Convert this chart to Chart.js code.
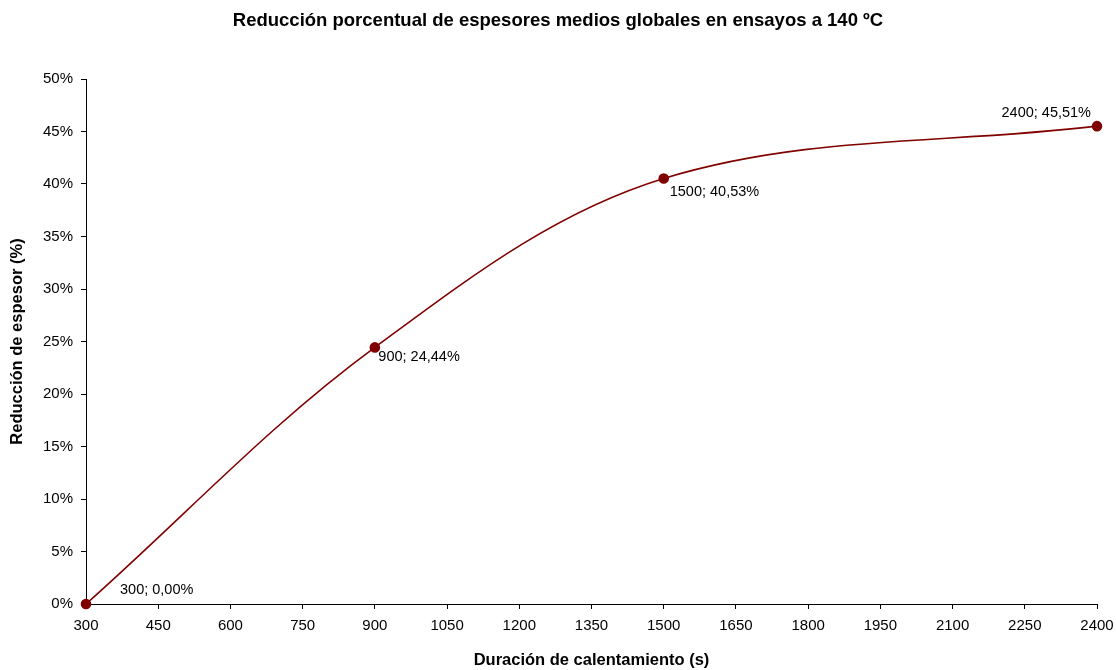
<!DOCTYPE html>
<html>
<head>
<meta charset="utf-8">
<script src="https://cdn.jsdelivr.net/npm/chart.js@4/dist/chart.umd.min.js"></script>
<style>
  html, body { margin: 0; padding: 0; background: #fff; }
  #wrap { width: 1116px; height: 670px; }
</style>
</head>
<body>
<div id="wrap"><canvas id="grafico"></canvas></div>
<script>
// datos
const duraciones = [300, 900, 1500, 2400];
const reducciones = [0.00, 24.44, 40.53, 45.51];
const etiquetas = ['300; 0,00%', '900; 24,44%', '1500; 40,53%', '2400; 45,51%'];
const ticksX = [300, 450, 600, 750, 900, 1050, 1200, 1350, 1500, 1650, 1800, 1950, 2100, 2250, 2400];
const ticksY = [0, 5, 10, 15, 20, 25, 30, 35, 40, 45, 50];

const rojo = '#800000';
const fuente = "Arial, 'Liberation Sans', sans-serif";

// posición de cada etiqueta respecto a su punto
const desplazamientos = [
    { dx: 34, dy: -14, align: 'left' },
    { dx: 3.5, dy: 10, align: 'left' },
    { dx: 6, dy: 13.5, align: 'left' },
    { dx: -6, dy: -13, align: 'right' }
];

// plugin sencillo para las etiquetas de datos
const etiquetasPlugin = {
    id: 'etiquetasDatos',
    afterDatasetsDraw(chart) {
        const ctx = chart.ctx;
        const meta = chart.getDatasetMeta(0);
        ctx.save();
        ctx.font = '14.5px ' + fuente;
        ctx.fillStyle = '#000';
        ctx.textBaseline = 'middle';
        meta.data.forEach((pt, i) => {
            const d = desplazamientos[i];
            ctx.textAlign = d.align;
            ctx.fillText(etiquetas[i], pt.x + d.dx, pt.y + d.dy);
        });
        ctx.restore();
    }
};

const ctx = document.getElementById('grafico').getContext('2d');
new Chart(ctx, {
    type: 'line',
    data: {
        datasets: [{
            data: duraciones.map((x, i) => ({ x: x, y: reducciones[i] })),
            borderColor: rojo,
            backgroundColor: rojo,
            borderWidth: 1.6,
            pointRadius: 4.5,
            pointBackgroundColor: rojo,
            pointBorderColor: rojo,
            tension: 0.35,
            clip: false
        }]
    },
    options: {
        responsive: true,
        maintainAspectRatio: false,
        animation: false,
        layout: { padding: 0 },
        plugins: {
            legend: { display: false },
            tooltip: { enabled: false },
            title: {
                display: true,
                text: 'Reducción porcentual de espesores medios globales en ensayos a 140 ºC',
                color: '#000',
                font: { family: fuente, size: 18.5, weight: 'bold' },
                padding: { top: 10, bottom: 46.8 }
            }
        },
        scales: {
            x: {
                type: 'linear',
                min: 300,
                max: 2400,
                afterBuildTicks: s => { s.ticks = ticksX.map(v => ({ value: v })); },
                // margen derecho fijo de 19px
                afterFit: s => { s.height = 66; s.paddingRight = 19; s.paddingLeft = 0; },
                grid: { display: true, drawOnChartArea: false, drawTicks: true, tickLength: 5, color: '#000' },
                border: { display: true, color: '#000', width: 1 },
                ticks: {
                    color: '#000',
                    font: { family: fuente, size: 15 },
                    padding: 8,
                    maxRotation: 0,
                    autoSkip: false,
                    callback: v => String(v)
                },
                title: {
                    display: true,
                    text: 'Duración de calentamiento (s)',
                    color: '#000',
                    font: { family: fuente, size: 16.5, weight: 'bold' },
                    padding: { top: 0, bottom: 0 }
                }
            },
            y: {
                type: 'linear',
                min: 0,
                max: 50,
                afterBuildTicks: s => { s.ticks = ticksY.map(v => ({ value: v })); },
                afterFit: s => { s.width = 86; },
                grid: { display: true, drawOnChartArea: false, drawTicks: true, tickLength: 5, color: '#000' },
                border: { display: true, color: '#000', width: 1 },
                ticks: {
                    color: '#000',
                    font: { family: fuente, size: 15 },
                    padding: 8,
                    callback: v => v + '%'
                },
                title: {
                    display: true,
                    text: 'Reducción de espesor (%)',
                    color: '#000',
                    font: { family: fuente, size: 16.5, weight: 'bold' },
                    padding: { top: 8, bottom: 0 }
                }
            }
        }
    },
    plugins: [etiquetasPlugin]
});
</script>
</body>
</html>
